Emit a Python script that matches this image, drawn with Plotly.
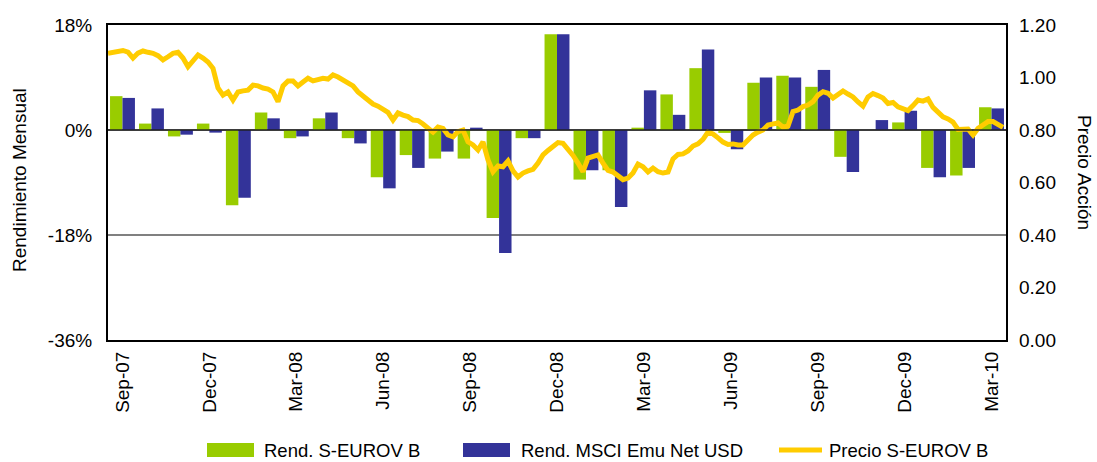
import plotly.graph_objects as go

# ---------------- data ----------------
months = ["Sep-07", "Oct-07", "Nov-07", "Dec-07", "Jan-08", "Feb-08", "Mar-08", "Apr-08",
          "May-08", "Jun-08", "Jul-08", "Aug-08", "Sep-08", "Oct-08", "Nov-08", "Dec-08",
          "Jan-09", "Feb-09", "Mar-09", "Apr-09", "May-09", "Jun-09", "Jul-09", "Aug-09",
          "Sep-09", "Oct-09", "Nov-09", "Dec-09", "Jan-10", "Feb-10", "Mar-10"]

rend_seurov = [5.8, 1.1, -1.1, 1.1, -12.9, 3.0, -1.4, 2.0, -1.4, -8.1, -4.3, -4.9, -4.9, -15.1,
               -1.4, 16.4, -8.5, -6.9, 0.4, 6.1, 10.6, -0.5, 8.1, 9.3, 7.4, -4.6, 0.0, 1.3,
               -6.5, -7.8, 3.9]

rend_msci = [5.5, 3.7, -0.8, -0.45, -11.6, 2.0, -1.1, 3.0, -2.3, -10.0, -6.5, -3.7, 0.4, -21.1,
             -1.4, 16.4, -6.9, -13.2, 6.8, 2.6, 13.8, -3.3, 9.0, 9.0, 10.3, -7.2, 1.7, 3.3,
             -8.1, -6.5, 3.7]

precio = [1.092, 1.097, 1.100, 1.103, 1.097, 1.074, 1.093, 1.101, 1.096, 1.092,
          1.083, 1.067, 1.079, 1.092, 1.096, 1.074, 1.041, 1.067, 1.086, 1.074,
          1.059, 1.035, 0.960, 0.933, 0.945, 0.914, 0.945, 0.949, 0.952, 0.971,
          0.968, 0.960, 0.956, 0.945, 0.908, 0.968, 0.987, 0.987, 0.968, 0.983,
          0.997, 0.987, 0.990, 0.997, 0.994, 1.010, 1.002, 0.989, 0.977, 0.968,
          0.945, 0.930, 0.912, 0.899, 0.891, 0.878, 0.867, 0.838, 0.865, 0.857,
          0.851, 0.838, 0.836, 0.823, 0.806, 0.792, 0.811, 0.806, 0.781, 0.774,
          0.794, 0.800, 0.755, 0.743, 0.724, 0.755, 0.686, 0.641, 0.663, 0.660,
          0.682, 0.644, 0.621, 0.636, 0.644, 0.650, 0.674, 0.705, 0.722, 0.735,
          0.752, 0.749, 0.728, 0.703, 0.674, 0.641, 0.693, 0.701, 0.705, 0.674,
          0.646, 0.640, 0.627, 0.611, 0.617, 0.636, 0.670, 0.660, 0.640, 0.655,
          0.641, 0.636, 0.640, 0.690, 0.707, 0.709, 0.720, 0.739, 0.747, 0.764,
          0.792, 0.785, 0.770, 0.754, 0.745, 0.747, 0.743, 0.743, 0.762, 0.781,
          0.792, 0.800, 0.819, 0.821, 0.827, 0.811, 0.815, 0.870, 0.876, 0.889,
          0.895, 0.908, 0.933, 0.946, 0.940, 0.922, 0.937, 0.949, 0.937, 0.926,
          0.907, 0.891, 0.926, 0.939, 0.931, 0.922, 0.901, 0.905, 0.888, 0.880,
          0.874, 0.893, 0.914, 0.910, 0.918, 0.886, 0.867, 0.850, 0.842, 0.830,
          0.802, 0.804, 0.804, 0.781, 0.806, 0.819, 0.832, 0.832, 0.819, 0.810]

month_ticks = months[::3]
y_left_ticks = [-36, -18, 0, 18]
y_right_ticks = [0.0, 0.2, 0.4, 0.6, 0.8, 1.0, 1.2]

GREEN = "#99CC00"
BLUE = "#333399"
YELLOW = "#FFCC00"
FONT = "Liberation Sans, Arial, sans-serif"

W, H = 1097, 462
ML, MR, MT, MB = 108, 91, 25, 122
PW, PH = W - ML - MR, H - MT - MB


def px_x(px):
    return (px - ML) / PW


def px_y(py):
    return (H - MB - py) / PH


fig = go.Figure()
fig.add_trace(go.Bar(x=months, y=rend_seurov, name="Rend. S-EUROV B",
                     marker=dict(color=GREEN, line=dict(width=0)), showlegend=False))
fig.add_trace(go.Bar(x=months, y=rend_msci, name="Rend. MSCI Emu Net USD",
                     marker=dict(color=BLUE, line=dict(width=0)), showlegend=False))
fig.add_trace(go.Scatter(x=list(range(len(precio))), y=precio, name="Precio S-EUROV B",
                         mode="lines", line=dict(color=YELLOW, width=5),
                         xaxis="x2", yaxis="y2", showlegend=False))

LEG_Y = 450
shapes = [
    dict(type="line", xref="paper", yref="y", x0=0, x1=1, y0=0, y1=0,
         line=dict(color="rgba(30,30,30,0.7)", width=2), layer="above"),
    # custom legend swatches
    dict(type="rect", xref="paper", yref="paper", x0=px_x(207), x1=px_x(254),
         y0=px_y(LEG_Y + 7), y1=px_y(LEG_Y - 7), fillcolor=GREEN, line=dict(width=0)),
    dict(type="rect", xref="paper", yref="paper", x0=px_x(463), x1=px_x(510),
         y0=px_y(LEG_Y + 7), y1=px_y(LEG_Y - 7), fillcolor=BLUE, line=dict(width=0)),
    dict(type="line", xref="paper", yref="paper", x0=px_x(779), x1=px_x(822),
         y0=px_y(LEG_Y), y1=px_y(LEG_Y), line=dict(color=YELLOW, width=5)),
]

LF = 18.5
annotations = [
    dict(text="Rend. S-EUROV B", x=px_x(262), y=px_y(LEG_Y), xref="paper", yref="paper",
         xanchor="left", yanchor="middle", showarrow=False, font=dict(size=LF)),
    dict(text="Rend. MSCI Emu Net USD", x=px_x(519), y=px_y(LEG_Y), xref="paper", yref="paper",
         xanchor="left", yanchor="middle", showarrow=False, font=dict(size=LF)),
    dict(text="Precio S-EUROV B", x=px_x(827), y=px_y(LEG_Y), xref="paper", yref="paper",
         xanchor="left", yanchor="middle", showarrow=False, font=dict(size=LF)),
    dict(text="Rendimiento Mensual", x=px_x(19), y=px_y(180), xref="paper", yref="paper",
         xanchor="center", yanchor="middle", textangle=-90, showarrow=False,
         font=dict(size=19)),
    dict(text="Precio Acción", x=px_x(1085), y=px_y(172), xref="paper", yref="paper",
         xanchor="center", yanchor="middle", textangle=90, showarrow=False,
         font=dict(size=19)),
]

fig.update_layout(
    width=W, height=H,
    margin=dict(l=ML, r=MR, t=MT, b=MB),
    paper_bgcolor="white", plot_bgcolor="white",
    font=dict(family=FONT, size=19, color="black"),
    barmode="group", bargap=0.14, bargroupgap=0.0,
    showlegend=False,
    xaxis=dict(type="category", categoryorder="array", categoryarray=months,
               tickmode="array", tickvals=month_ticks, ticktext=month_ticks,
               tickangle=-90, showgrid=False, showline=True, mirror=True,
               linecolor="black", linewidth=2, ticks="", ticklabelstandoff=2,
               range=[-0.5, len(months) - 0.5]),
    xaxis2=dict(overlaying="x", range=[0, (PW - 2) / 5 + 0.4], visible=False),
    yaxis=dict(range=[-36, 18], tickmode="array", tickvals=y_left_ticks,
               ticktext=[f"{v}%" for v in y_left_ticks],
               showgrid=True, gridcolor="#808080", gridwidth=2, zeroline=False,
               showline=True, mirror=True, linecolor="black", linewidth=2, ticks="",
               ticklabelstandoff=10),
    yaxis2=dict(overlaying="y", side="right", range=[0, 1.2], tickmode="array",
                tickvals=y_right_ticks, ticktext=[f"{v:.2f}" for v in y_right_ticks],
                showgrid=False, zeroline=False, ticks="", ticklabelstandoff=12),
    shapes=shapes,
    annotations=annotations,
)

fig.write_html("out.html",
               config={"displayModeBar": False},
               post_script="document.body.style.margin='0px';document.body.style.overflow='hidden';")
